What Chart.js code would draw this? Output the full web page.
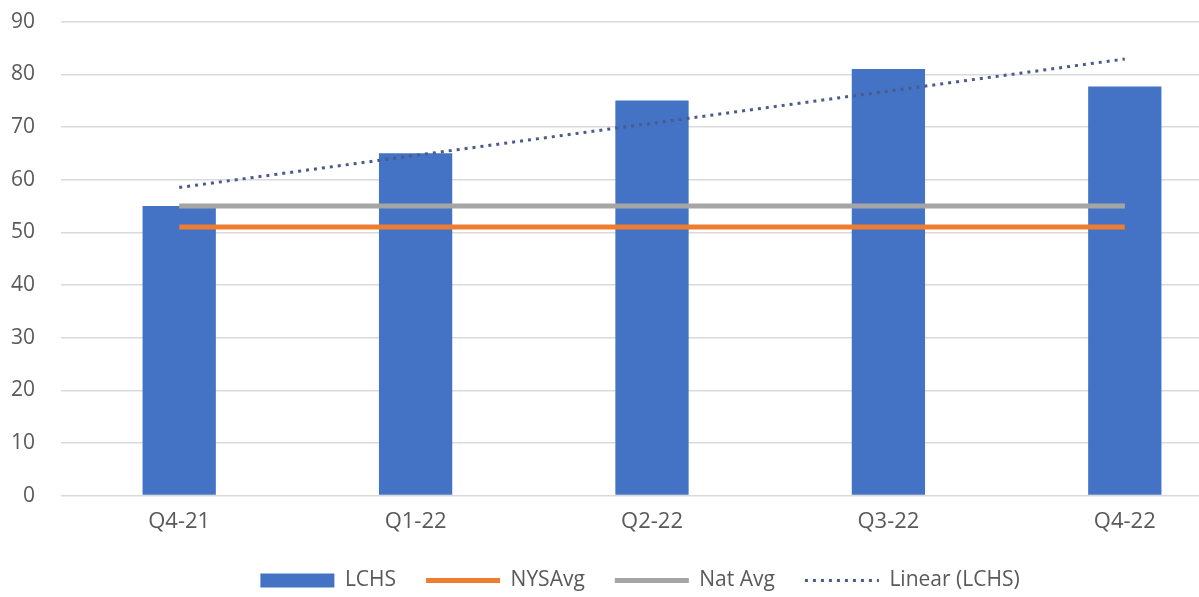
<!DOCTYPE html>
<html>
<head>
<meta charset="utf-8">
<script src="https://cdn.jsdelivr.net/npm/chart.js@4"></script>
<style>
  html, body { margin: 0; padding: 0; background: #fff; overflow: hidden; }
  #wrap { width: 1280px; height: 618px; margin-top: -17px; }
</style>
</head>
<body>
<div id="wrap"><canvas id="chart"></canvas></div>
<script>
// values
const quarters = ['Q4-21', 'Q1-22', 'Q2-22', 'Q3-22', 'Q4-22'];
const lchs = [55, 65, 75, 81, 77.7];
const nysAvg = [51, 51, 51, 51, 51];
const natAvg = [55, 55, 55, 55, 55];
const linearLchs = [58.5, 64.6, 70.7, 76.8, 82.9];
const yTicks = [0, 10, 20, 30, 40, 50, 60, 70, 80, 90];

const txt = '#595959';
const fontFamily = "'Open Sans', 'Liberation Sans', sans-serif";
const trendDash = [3, 5];

var ctx = document.getElementById('chart');

new Chart(ctx, {
	data: {
		labels: quarters,
		datasets: [{
			type: 'bar',
			label: 'LCHS',
			data: lchs,
			backgroundColor: '#4472C4',
			borderWidth: 0,
			barPercentage: 0.31,
			categoryPercentage: 1,
			order: 4
		}, {
			type: 'line',
			label: 'NYSAvg',
			data: nysAvg,
			borderColor: '#ED7D31',
			backgroundColor: '#ED7D31',
			borderWidth: 5,
			pointRadius: 0,
			pointStyle: 'line',
			order: 2
		}, {
			type: 'line',
			label: 'Nat Avg',
			data: natAvg,
			borderColor: '#A5A5A5',
			backgroundColor: '#A5A5A5',
			borderWidth: 5,
			pointRadius: 0,
			pointStyle: 'line',
			order: 1
		}, {
			type: 'line',
			label: 'Linear (LCHS)',
			data: linearLchs,
			borderColor: '#4A5B8C',
			backgroundColor: '#4A5B8C',
			borderWidth: 3,
			borderDash: trendDash,
			pointRadius: 0,
			pointStyle: 'line',
			order: 0
		}]
	},
	options: {
		responsive: true,
		maintainAspectRatio: false,
		animation: false,
		layout: { padding: 0 },
		plugins: {
			tooltip: { enabled: false },
			legend: {
				position: 'bottom',
				labels: {
					color: txt,
					font: { family: fontFamily, size: 21 },
					usePointStyle: true,
					pointStyleWidth: 74,
					boxWidth: 74,
					boxHeight: 14,
					padding: 30,
					generateLabels: function(chart) {
						const items = Chart.defaults.plugins.legend.labels.generateLabels(chart);
						items.forEach(function(it) {
							if (it.datasetIndex === 0) it.pointStyle = 'rect';
							if (it.datasetIndex === 1 || it.datasetIndex === 2) it.lineWidth = 5;
							if (it.datasetIndex === 3) {
								it.lineWidth = 3;
								it.lineDash = trendDash;
							}
						});
						return items;
					},
					sort: function(a, b) { return a.datasetIndex - b.datasetIndex; }
				}
			}
		},
		scales: {
			x: {
				offset: true,
				grid: { display: false },
				border: { display: false },
				ticks: { color: txt, font: { family: fontFamily, size: 22 }, padding: 5 }
			},
			y: {
				min: 0,
				max: 90,
				afterBuildTicks: function(axis) {
					axis.ticks = yTicks.map(v => ({ value: v }));
				},
				afterFit: function(axis) { axis.width = 61; },
				grid: { color: '#D9D9D9', lineWidth: 1.5, drawTicks: false },
				border: { display: false },
				ticks: { color: txt, font: { family: fontFamily, size: 21 }, padding: 26 }
			},
			yRight: {
				position: 'right',
				display: true,
				afterFit: function(axis) { axis.width = 37; },
				grid: { display: false },
				border: { display: false },
				ticks: { display: false }
			}
		}
	}
});
</script>
</body>
</html>
